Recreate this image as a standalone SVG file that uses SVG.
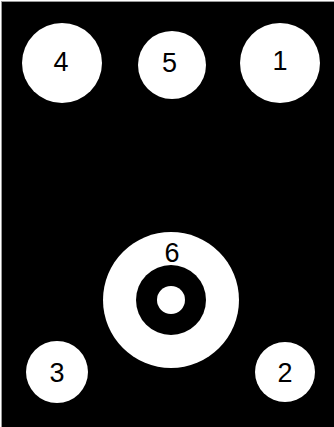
<svg xmlns="http://www.w3.org/2000/svg" width="334" height="427" viewBox="0 0 334 427">
<style>
.c{fill:#fff}
.t{font-family:"Liberation Sans",Arial,sans-serif;font-size:27px;fill:#000;text-anchor:middle}
</style>
<rect x="0" y="0" width="334" height="427" fill="#fff"/>
<rect x="1" y="1" width="333" height="426" fill="#999"/>
<rect x="2" y="2" width="332" height="425" fill="#000"/>
<g id="node4"><circle class="c" cx="62" cy="63" r="40"/><text class="t" x="61" y="71">4</text></g>
<g id="node5"><circle class="c" cx="172" cy="65" r="34"/><text class="t" x="169.5" y="72">5</text></g>
<g id="node1"><circle class="c" cx="280" cy="63" r="40"/><text class="t" x="280" y="70">1</text></g>
<g id="node6"><circle class="c" cx="171" cy="300" r="68"/><circle cx="171" cy="300" r="35" fill="#000"/><circle class="c" cx="171" cy="300" r="14"/><text class="t" x="172" y="262">6</text></g>
<g id="node3"><circle class="c" cx="57" cy="372" r="31"/><text class="t" x="57" y="382">3</text></g>
<g id="node2"><circle class="c" cx="285" cy="372" r="30"/><text class="t" x="285" y="382">2</text></g>
<g id="connectors"></g>
</svg>
